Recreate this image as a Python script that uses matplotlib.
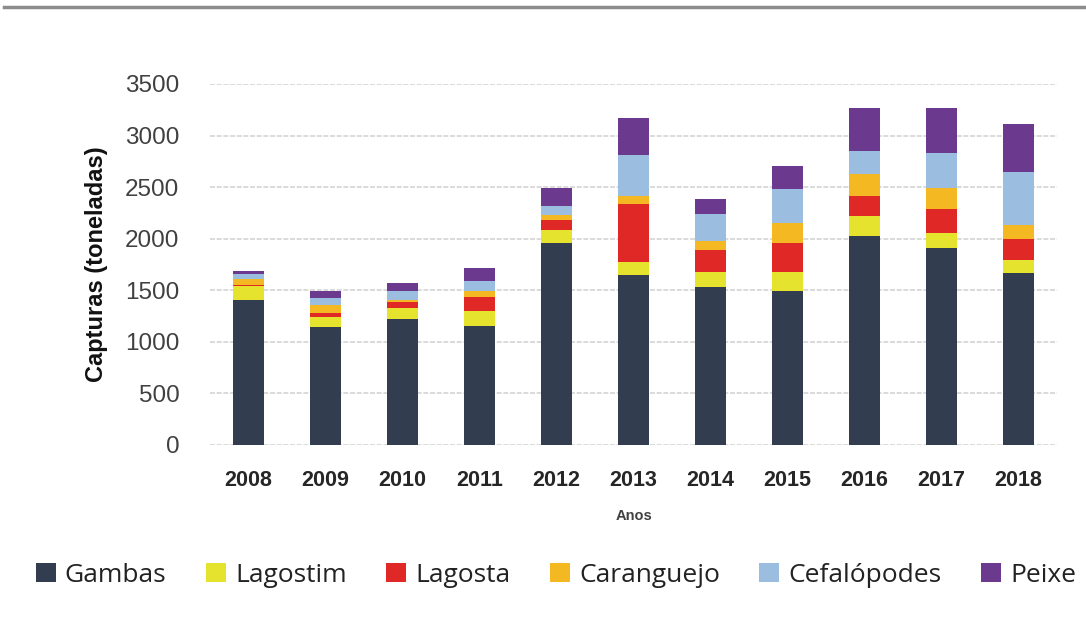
import matplotlib
matplotlib.use("Agg")
import matplotlib.pyplot as plt
from matplotlib.lines import Line2D
import numpy as np

years = ["2008", "2009", "2010", "2011", "2012", "2013", "2014", "2015", "2016", "2017", "2018"]
gambas      = [1410, 1140, 1225, 1155, 1955, 1650, 1535, 1490, 2030, 1910, 1670]
lagostim    = [130, 105, 100, 145, 125, 120, 145, 185, 190, 150, 125]
lagosta     = [10, 30, 60, 130, 100, 570, 215, 280, 190, 230, 205]
caranguejo  = [60, 80, 25, 65, 50, 70, 85, 200, 220, 205, 135]
cefalopodes = [45, 70, 80, 95, 85, 405, 255, 325, 220, 335, 515]
peixe       = [35, 65, 80, 130, 175, 355, 150, 220, 420, 440, 460]

series_names = ["Gambas", "Lagostim", "Lagosta", "Caranguejo", "Cefalópodes", "Peixe"]
series_vals = [gambas, lagostim, lagosta, caranguejo, cefalopodes, peixe]
colors = ["#323E4F", "#E6E32E", "#E02826", "#F4B822", "#9BBDE0", "#6B3A8E"]

fig = plt.figure(figsize=(10.86, 6.17), dpi=100)
ax = fig.add_axes([0.1934, 0.2788, 0.7799, 0.5851])

x = np.arange(len(years))
bottom = np.zeros(len(years))
for name, vals, c in zip(series_names, series_vals, colors):
    ax.bar(x, vals, width=0.4, bottom=bottom, color=c, label=name, zorder=3)
    bottom += np.array(vals)

ax.set_xlim(-0.5, len(years) - 0.5)
ax.set_ylim(0, 3500)
ax.set_yticks(np.arange(0, 3501, 500))
ax.yaxis.grid(True, color="#d4d4d4", linewidth=1.2, linestyle=(0, (3, 1)), zorder=0)
ax.set_axisbelow(True)
for s in ax.spines.values():
    s.set_visible(False)
ax.tick_params(axis="both", length=0)
ax.tick_params(axis="y", pad=22, labelsize=17.5, labelcolor="#404040")
ax.tick_params(axis="x", pad=18)
ax.set_xticks(x)
ax.set_xticklabels(years, fontsize=15.5, fontweight="bold", color="#262626",
                   family=["Liberation Sans", "DejaVu Sans"])
for lbl in ax.get_yticklabels():
    lbl.set_family(["Liberation Sans", "DejaVu Sans"])

ax.set_xlabel("Anos", fontsize=10.5, fontweight="bold", color="#404040",
              family=["Liberation Sans", "DejaVu Sans"], labelpad=13)
ax.set_ylabel("Capturas (toneladas)", fontsize=17, fontweight="bold", color="#111111",
              family=["Liberation Sans", "DejaVu Sans"], labelpad=12)

fig.add_artist(Line2D([0.004, 1.0], [0.988, 0.988], transform=fig.transFigure,
                      color="#8c8c8c", linewidth=2.5))

leg = fig.legend(loc="center", bbox_to_anchor=(0.512, 0.068), ncol=6, frameon=False,
                 prop={"family": ["Open Sans", "DejaVu Sans"], "size": 19},
                 handlelength=0.75, handleheight=0.75, handletextpad=0.35, columnspacing=1.5)
for t in leg.get_texts():
    t.set_color("#222222")

fig.savefig("out.png", dpi=100, facecolor="white")
